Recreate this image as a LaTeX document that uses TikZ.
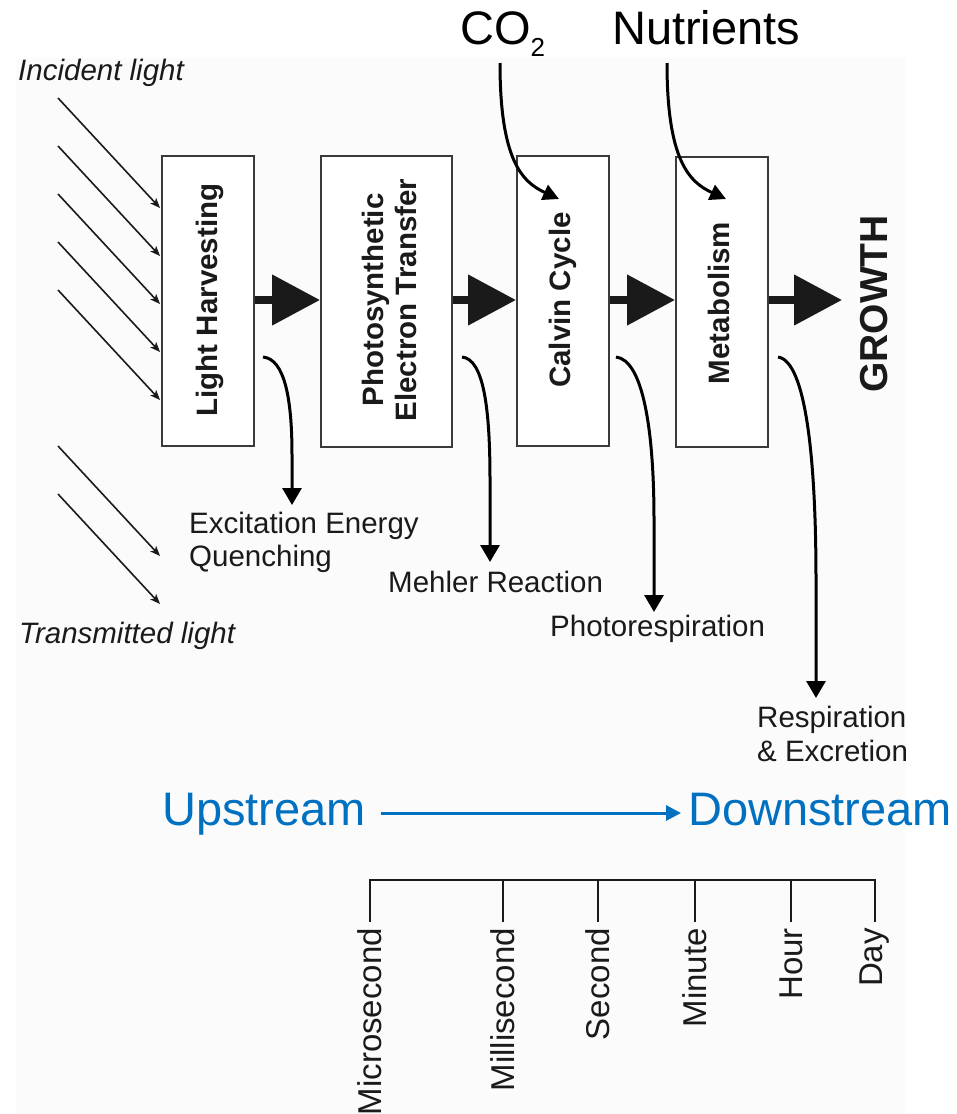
\documentclass[tikz,border=0pt]{standalone}
\usepackage{fontspec}
\setmainfont{Liberation Sans}
\usetikzlibrary{arrows.meta,calc}
\definecolor{ink}{HTML}{1A1A1A}
\definecolor{boxline}{HTML}{3A3A3A}
\definecolor{flowblue}{HTML}{0070C0}
\definecolor{panel}{HTML}{FBFBFB}

\begin{document}
\begin{tikzpicture}[x=1pt,y=-1pt,
  stagebox/.style={draw=boxline, line width=2pt, fill=white, minimum width=92pt, minimum height=290pt, inner sep=0pt},
  stagetext/.style={rotate=90, font=\fontsize{29.5}{33}\selectfont\bfseries, text=ink, align=center, inner sep=0pt},
  note/.style={font=\fontsize{29.5}{33.5}\selectfont, text=ink, inner sep=0pt, anchor=base west},
  bignote/.style={font=\fontsize{47}{47}\selectfont, text=black, inner sep=0pt, anchor=base west},
  flowtext/.style={font=\fontsize{47}{47}\selectfont, text=flowblue, inner sep=0pt, anchor=base west},
  ticktext/.style={rotate=90, font=\fontsize{33}{33}\selectfont, text=ink, inner sep=0pt, anchor=east},
  ray/.style={draw=ink, line width=1.6pt, -{Stealth[length=10pt,width=8pt,inset=2.5pt]}},
  blockarrow/.style={draw=ink, line width=8pt, -{Triangle[length=48pt,width=49pt]}},
  sink/.style={draw=black, line width=3pt, -{Triangle[length=17pt,width=19pt]}},
  feed/.style={draw=black, line width=3pt, -{Triangle[length=16pt,width=16pt]}},
  flow/.style={draw=flowblue, line width=3pt, -{Triangle[length=15pt,width=15pt]}},
  scaleline/.style={draw=ink, line width=2pt}
]
\useasboundingbox (0,0) rectangle (957,1114);
\fill[white] (0,0) rectangle (957,1114);
\fill[panel] (16,58) rectangle (906,1114);

% process stages
\node[stagebox] (b1) at (208,301) {};
\node[stagebox, minimum width=131pt, minimum height=291pt] (b2) at (386.5,301.5) {};
\node[stagebox] (b3) at (563,301) {};
\node[stagebox] (b4) at (722,302) {};

\node[stagetext] (t1) at (210,300) {Light Harvesting};
\node[stagetext] (t2) at (389,300) {Photosynthetic\\Electron Transfer};
\node[stagetext] (t3) at (563,300) {Calvin Cycle};
\node[stagetext] (t4) at (719,303) {Metabolism};
\node[rotate=90, font=\fontsize{39}{39}\selectfont\bfseries, text=ink, inner sep=0pt] (growth) at (874,304) {GROWTH};

% main flow between stages
\coordinate (growtip) at (842,300);
\draw[blockarrow] (b1.east |- 0,300) -- (b2.west |- 0,300);
\draw[blockarrow] (b2.east |- 0,300) -- (b3.west |- 0,300);
\draw[blockarrow] (b3.east |- 0,300) -- (b4.west |- 0,300);
\draw[blockarrow] (b4.east |- 0,300) -- (growtip);

% incident and transmitted light
\node[note] (inc) at (18,80) {\itshape Incident light};
\node[note] (trans) at (19,643) {\itshape Transmitted light};
\foreach \y in {98,146,194,242,290}
  \draw[ray] (58,\y) -- (160,\y+110);
\foreach \y in {446,494}
  \draw[ray] (58,\y) -- (160,\y+110);

% inputs
\node[bignote] (co2) at (460,44) {CO\raisebox{-12pt}{\fontsize{26}{26}\selectfont 2}};
\node[bignote] (nut) at (612,44) {Nutrients};
\coordinate (co2s) at (500,63);
\coordinate (co2e) at (559,199);
\coordinate (nuts) at (667,63);
\coordinate (nute) at (726,199);
\draw[feed] (co2s) .. controls (500,160) and (522,182) .. (co2e);
\draw[feed] (nuts) .. controls (667,160) and (689,182) .. (nute);

% losses
\node[note] (exc1) at (189,533) {Excitation Energy};
\node[note] (exc2) at (189,566) {Quenching};
\node[note] (meh) at (388,592) {Mehler Reaction};
\node[note] (pr) at (550,636) {Photorespiration};
\node[note] (resp1) at (757,727) {Respiration};
\node[note] (resp2) at (757,761) {\& Excretion};

\coordinate (q1) at (263,357);
\coordinate (q2) at (462,357);
\coordinate (q3) at (616,357);
\coordinate (q4) at (778,357);
\draw[sink] (q1) .. controls (285,359) and (292,400) .. (292,455) -- (292,505);
\draw[sink] (q2) .. controls (484,359) and (490,410) .. (490,480) -- (490,562);
\draw[sink] (q3) .. controls (643,360) and (654,430) .. (654,520) -- (654,612);
\draw[sink] (q4) .. controls (806,361) and (816,460) .. (816,580) -- (816,698);

% upstream / downstream
\node[flowtext] (up) at (162,825) {Upstream};
\node[flowtext] (down) at (688,825) {Downstream};
\draw[flow] ($(up.base east)+(15,-12)$) -- ($(down.base west)+(-7,-12)$);

% time scale
\draw[scaleline] (370,880) -- (875,880);
\foreach \x/\t [count=\i] in {370/Microsecond,503/Millisecond,598/Second,695/Minute,791/Hour,875/Day} {
  \draw[scaleline] (\x,879) -- (\x,922);
  \node[ticktext] (ts\i) at (\x,928) {\t};
}
\end{tikzpicture}
\end{document}
